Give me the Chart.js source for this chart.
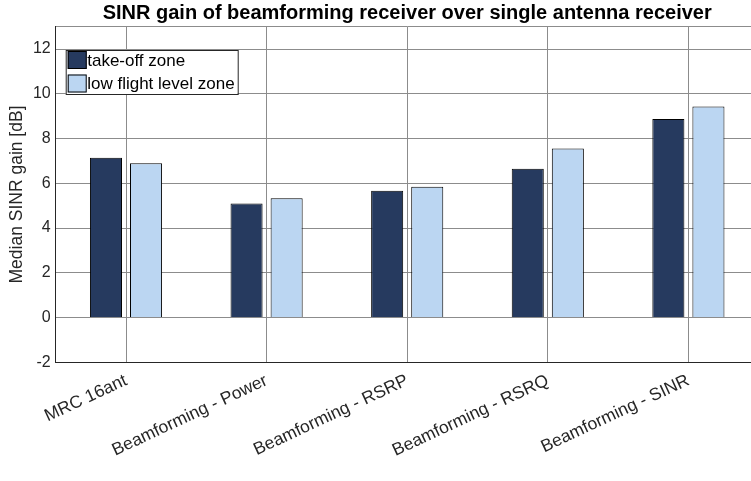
<!DOCTYPE html>
<html>
<head>
<meta charset="utf-8">
<script src="https://cdn.jsdelivr.net/npm/chart.js"></script>
<style>
  html, body { margin: 0; padding: 0; overflow: hidden; background: #fff; }
  #wrap { width: 751px; height: 481px; overflow: hidden; }
</style>
</head>
<body>
<div id="wrap"><canvas id="gainChart" width="770" height="481"></canvas></div>
<script>
// categorias e valores
const categories = ['MRC 16ant', 'Beamforming - Power', 'Beamforming - RSRP', 'Beamforming - RSRQ', 'Beamforming - SINR'];
const takeOff = [7.14, 5.10, 5.67, 6.65, 8.88];
const lowFlight = [6.90, 5.33, 5.85, 7.56, 9.43];
const yTicks = [-2, 0, 2, 4, 6, 8, 10, 12];

const font = 'Liberation Sans, Arial, Helvetica, sans-serif';
const ink = '#262626';

// legenda desenhada dentro da área do gráfico
const insideLegend = {
    id: 'insideLegend',
    afterDraw(chart) {
        const c = chart.ctx;
        const a = chart.chartArea;
        const x = a.left + 10, y = a.top + 23.3, w = 172, h = 44;
        c.save();
        c.fillStyle = '#fff';
        c.fillRect(x, y, w, h);
        c.strokeStyle = ink;
        c.lineWidth = 1;
        c.strokeRect(x + 0.5, y + 0.5, w, h);
        c.font = '17px ' + font;
        c.textBaseline = 'middle';
        chart.data.datasets.forEach((ds, i) => {
            const ry = y + 1 + i * 23.5;
            c.fillStyle = ds.backgroundColor;
            c.fillRect(x + 2, ry, 19, 18);
            c.strokeStyle = '#000';
            c.strokeRect(x + 2.5, ry + 0.5, 18, 17);
            c.fillStyle = '#000';
            c.fillText(ds.label, x + 21.5, ry + 10);
        });
        c.restore();
    }
};

new Chart(document.getElementById('gainChart'), {
    type: 'bar',
    data: {
        labels: categories,
        datasets: [{
            label: 'take-off zone',
            data: takeOff,
            backgroundColor: '#263a5f',
            borderColor: '#000',
            borderWidth: 1,
            categoryPercentage: 0.57,
            barPercentage: 0.8
        }, {
            label: 'low flight level zone',
            data: lowFlight,
            backgroundColor: '#bbd6f2',
            borderColor: '#000',
            borderWidth: 1,
            categoryPercentage: 0.57,
            barPercentage: 0.8
        }]
    },
    options: {
        responsive: false,
        animation: false,
        layout: { padding: { left: 0, right: 11.3, top: 0, bottom: 0 } },
        plugins: {
            legend: { display: false },
            tooltip: { enabled: false },
            title: {
                display: true,
                fullSize: false,
                text: 'SINR gain of beamforming receiver over single antenna receiver',
                color: '#000',
                font: { family: font, size: 20, weight: 'bold' },
                padding: { top: 1, bottom: 1.7 }
            }
        },
        scales: {
            x: {
                offset: true,
                grid: { offset: false, color: '#8c8c8c', lineWidth: 1, drawTicks: false },
                border: { color: ink, width: 1 },
                ticks: {
                    color: ink,
                    font: { family: font, size: 17.5 },
                    maxRotation: 25,
                    minRotation: 25,
                    padding: 8
                },
                afterFit(scale) { scale.height = 118.7; }
            },
            y: {
                min: -2,
                max: 13,
                grid: { color: '#8c8c8c', lineWidth: 1, drawTicks: false },
                border: { color: ink, width: 1 },
                afterBuildTicks(scale) {
                    scale.ticks = yTicks.concat([13]).map(v => ({ value: v }));
                },
                ticks: {
                    color: ink,
                    font: { family: font, size: 16 },
                    padding: 5,
                    callback: v => (yTicks.includes(v) ? String(v) : '')
                },
                title: {
                    display: true,
                    text: 'Median SINR gain [dB]',
                    color: ink,
                    font: { family: font, size: 17.5 },
                    padding: { top: 7, bottom: 4 }
                },
                afterFit(scale) { scale.width = 55.7; }
            }
        }
    },
    plugins: [insideLegend]
});
</script>
</body>
</html>
